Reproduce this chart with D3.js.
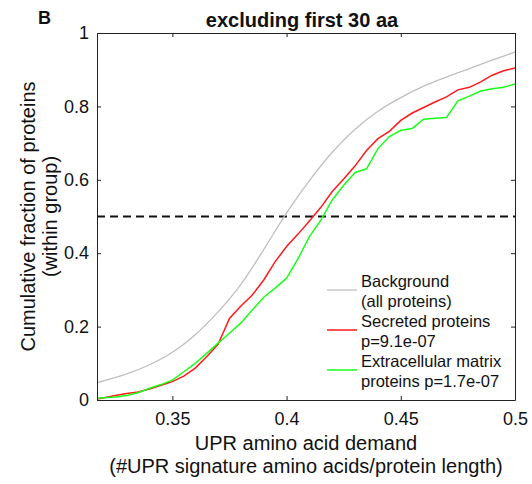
<!DOCTYPE html>
<html>
<head>
<meta charset="utf-8">
<script src="https://cdn.jsdelivr.net/npm/d3@7"></script>
<style>
  body { margin: 0; background: #fff; }
  text { font-family: "Liberation Sans", Arial, sans-serif; fill: #111; }
</style>
</head>
<body>
<svg id="chart" width="532" height="484"></svg>
<script>
'use strict';

// values
var bgX = [0.317, 0.33, 0.34, 0.35, 0.36, 0.37, 0.38, 0.39, 0.40, 0.41, 0.42, 0.43, 0.44, 0.45, 0.46, 0.47, 0.48, 0.49, 0.5];
var background = [0.047, 0.071, 0.096, 0.130, 0.178, 0.240, 0.315, 0.410, 0.510, 0.598, 0.675, 0.738, 0.787, 0.824, 0.855, 0.880, 0.903, 0.926, 0.948];

var xValues = [0.317, 0.32, 0.325, 0.33, 0.335, 0.34, 0.345, 0.35, 0.355, 0.36, 0.365, 0.37, 0.375, 0.38,
	0.385, 0.39, 0.395, 0.40, 0.405, 0.41, 0.415, 0.42, 0.425, 0.43, 0.435, 0.44, 0.445, 0.45,
	0.455, 0.46, 0.465, 0.47, 0.475, 0.48, 0.485, 0.49, 0.495, 0.5];

var secreted = [0.003, 0.006, 0.012, 0.018, 0.022, 0.030, 0.040, 0.050, 0.065, 0.087, 0.118, 0.152, 0.222, 0.256,
	0.286, 0.327, 0.377, 0.418, 0.452, 0.488, 0.525, 0.568, 0.602, 0.638, 0.680, 0.712, 0.732, 0.762,
	0.782, 0.797, 0.812, 0.826, 0.845, 0.852, 0.867, 0.885, 0.897, 0.905];

var ecm = [0.005, 0.006, 0.008, 0.012, 0.020, 0.032, 0.042, 0.054, 0.077, 0.100, 0.127, 0.155, 0.182, 0.210,
	0.245, 0.280, 0.305, 0.332, 0.385, 0.445, 0.490, 0.545, 0.585, 0.620, 0.630, 0.685, 0.718, 0.735,
	0.740, 0.765, 0.768, 0.770, 0.815, 0.828, 0.842, 0.848, 0.852, 0.861];

var xTicks = [0.35, 0.4, 0.45, 0.5];
var xTickLabels = ['0.35', '0.4', '0.45', '0.5'];
var yTicks = [0, 0.2, 0.4, 0.6, 0.8, 1];
var yTickLabels = ['0', '0.2', '0.4', '0.6', '0.8', '1'];
var medianLine = 0.5;

var seriesNames = ['background', 'secreted', 'ecm'];
var seriesColors = ['#bfbfbf', '#ff1a1a', '#1aff1a'];
var legendLines = [['Background', '(all proteins)'], ['Secreted proteins', 'p=9.1e-07'], ['Extracellular matrix', 'proteins p=1.7e-07']];

var svg = d3.select('#chart');

var nLeft = 97, nRight = 515, nTop = 33, nBottom = 400;

var xScale = d3.scaleLinear().domain([0.317, 0.5]).range([nLeft, nRight]);
var yScale = d3.scaleLinear().domain([0, 1]).range([nBottom, nTop]);

var arraySeries = [
	{ x: bgX, y: background, curve: d3.curveCatmullRom },
	{ x: xValues, y: secreted, curve: d3.curveLinear },
	{ x: xValues, y: ecm, curve: d3.curveLinear }
];

// clip to the plot box
svg.append('clipPath').attr('id', 'plotclip')
	.append('rect')
	.attr('x', nLeft).attr('y', nTop)
	.attr('width', nRight - nLeft).attr('height', nBottom - nTop);

var plot = svg.append('g').attr('clip-path', 'url(#plotclip)');

// dashed 50% line
plot.append('line')
	.attr('x1', nLeft).attr('x2', nRight)
	.attr('y1', yScale(medianLine)).attr('y2', yScale(medianLine))
	.attr('stroke', '#111')
	.attr('stroke-width', 2)
	.attr('stroke-dasharray', '8,5');

plot.selectAll('path.series')
	.data(arraySeries)
	.enter()
	.append('path')
	.attr('class', function(d, i) { return 'series ' + seriesNames[i]; })
	.attr('d', function(s) {
		return d3.line()
			.x(function(d, i) { return xScale(s.x[i]); })
			.y(function(d) { return yScale(d); })
			.curve(s.curve)(s.y);
	})
	.attr('fill', 'none')
	.attr('stroke', function(d, i) { return seriesColors[i]; })
	.attr('stroke-width', function(d, i) { return i == 0 ? 1.3 : 1.5; });

// axes, ticks pointing inward on all four sides
function styleAxis(g)
{
	g.selectAll('.domain').attr('stroke', '#222');
	g.selectAll('.tick line').attr('stroke', '#222');
	g.selectAll('.tick text').style('font-size', '18px').attr('fill', '#111');
}

svg.append('g')
	.attr('transform', 'translate(0,' + nBottom + ')')
	.call(d3.axisBottom(xScale).tickValues(xTicks)
		.tickFormat(function(d, i) { return xTickLabels[i]; })
		.tickSizeInner(-4).tickSizeOuter(0).tickPadding(12))
	.call(styleAxis);

svg.append('g')
	.attr('transform', 'translate(0,' + nTop + ')')
	.call(d3.axisTop(xScale).tickValues(xTicks).tickFormat('')
		.tickSizeInner(-4).tickSizeOuter(0))
	.call(styleAxis);

svg.append('g')
	.attr('transform', 'translate(' + nLeft + ',0)')
	.call(d3.axisLeft(yScale).tickValues(yTicks)
		.tickFormat(function(d, i) { return yTickLabels[i]; })
		.tickSizeInner(-4).tickSizeOuter(0).tickPadding(8))
	.call(styleAxis);

svg.append('g')
	.attr('transform', 'translate(' + nRight + ',0)')
	.call(d3.axisRight(yScale).tickValues(yTicks).tickFormat('')
		.tickSizeInner(-4).tickSizeOuter(0))
	.call(styleAxis);

// legend
var legend = svg.append('g').attr('class', 'legend');
legendLines.forEach(function(aLines, i)
{
	var nY = 287 + i * 40;
	legend.append('line')
		.attr('x1', 327).attr('x2', 357)
		.attr('y1', nY + 3).attr('y2', nY + 3)
		.attr('stroke', seriesColors[i])
		.attr('stroke-width', i == 0 ? 1.3 : 1.5);
	aLines.forEach(function(strLine, j)
	{
		legend.append('text')
			.attr('x', 361)
			.attr('y', nY + j * 20)
			.style('font-size', '16.5px')
			.text(strLine);
	});
});

// titles
var nCenterX = (nLeft + nRight) / 2;
svg.append('text')
	.attr('x', 302).attr('y', 27)
	.attr('text-anchor', 'middle')
	.style('font-size', '20px').style('font-weight', 'bold')
	.text('excluding first 30 aa');

svg.append('text')
	.attr('x', 38).attr('y', 24)
	.style('font-size', '18px').style('font-weight', 'bold')
	.text('B');

svg.append('text')
	.attr('x', nCenterX).attr('y', 450)
	.attr('text-anchor', 'middle')
	.style('font-size', '20px')
	.text('UPR amino acid demand');

svg.append('text')
	.attr('x', nCenterX).attr('y', 473)
	.attr('text-anchor', 'middle')
	.style('font-size', '20px')
	.text('(#UPR signature amino acids/protein length)');

var nCenterY = (nTop + nBottom) / 2;
svg.append('text')
	.attr('transform', 'translate(35,' + nCenterY + ') rotate(-90)')
	.attr('text-anchor', 'middle')
	.style('font-size', '20px')
	.text('Cumulative fraction of proteins');

svg.append('text')
	.attr('transform', 'translate(57,' + nCenterY + ') rotate(-90)')
	.attr('text-anchor', 'middle')
	.style('font-size', '20px')
	.text('(within group)');
</script>
</body>
</html>
